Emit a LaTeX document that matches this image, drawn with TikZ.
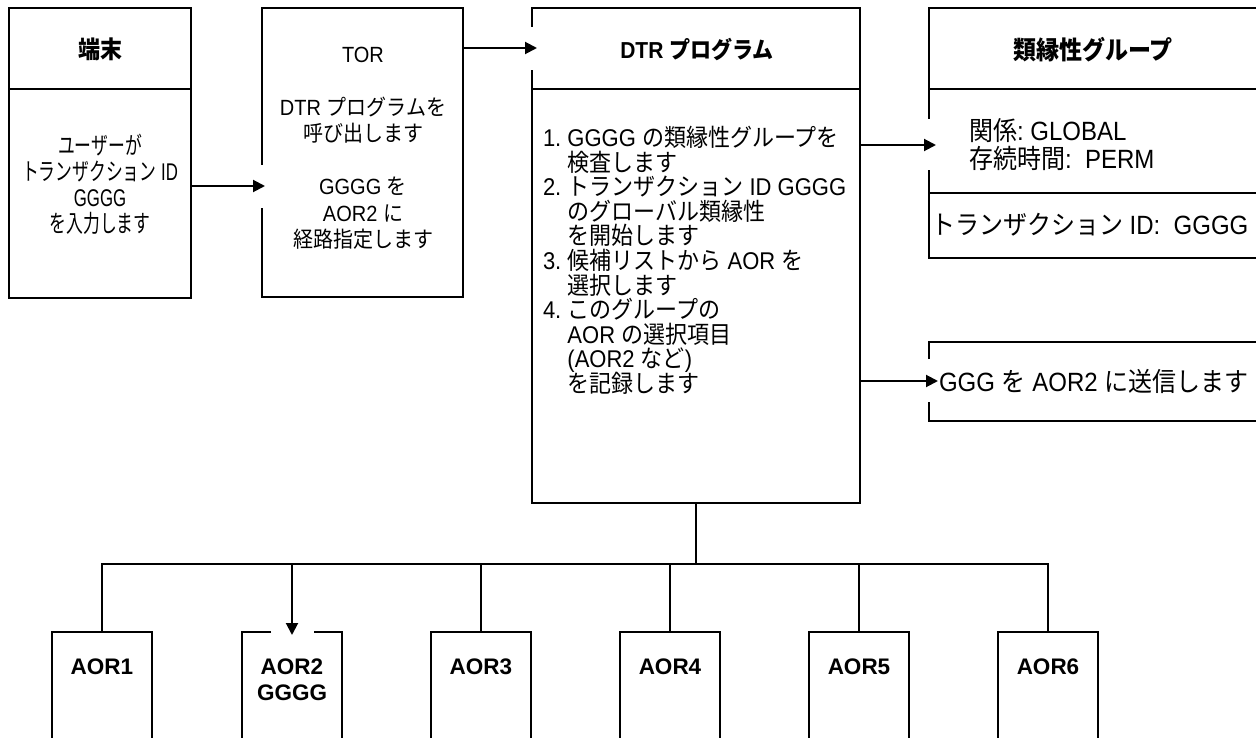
\documentclass[tikz,border=0pt]{standalone}
\usepackage{fontspec}
\usepackage{graphicx}
\setmainfont{Liberation Sans}
\newfontfamily\jpfont{Noto Sans CJK JP}
\usetikzlibrary{arrows.meta}
\newcommand\J[1]{{\jpfont #1}}
\newcommand\fs[2]{\fontsize{#1}{#2}\selectfont}
\newcommand\vs[1]{\scalebox{1}[1.1]{#1}}
% centred / left-aligned line blocks with exact baseline pitch
\newcommand\cblk[3]{\vbox{\fs{#1}{#2}\lineskiplimit=-1000pt\lineskip=0pt\halign{\hfil\vrule height .9em depth .25em width 0pt##\hfil\cr#3\crcr}}}
\newcommand\lblk[3]{\vbox{\fs{#1}{#2}\lineskiplimit=-1000pt\lineskip=0pt\halign{\vrule height .9em depth .25em width 0pt##\hfil\cr#3\crcr}}}
\frenchspacing
\begin{document}
\begin{tikzpicture}[x=1pt,y=-1pt,
  frame/.style={draw=black,line width=2pt},
  wire/.style={draw=black,line width=2pt},
  arr/.style={wire,-{Triangle[length=12pt,width=12pt]}},
  area/.style={inner sep=0pt,outer sep=0pt},
  txt/.style={inner sep=0pt,outer sep=0pt},
  hdr/.style={txt,anchor=base},
]
\useasboundingbox (0,0) rectangle (1256,738);
\coordinate (hd) at (0,89);
\coordinate (ad) at (0,193);
\coordinate (bus) at (0,564);

% Terminal
\node[area,frame,minimum width=182,minimum height=290] (term) at (100,153) {};
\draw[wire] (term.west |- hd) -- (term.east |- hd);
\node[hdr] (termT) at (100,58.2) {\vs{\bfseries\fs{22}{26}\J{端末}}};
\node[txt] (termB) at (100,185.3) {\scalebox{0.8}[1.15]{\cblk{21}{22.61}{\J{ユーザーが}\cr
\J{トランザクション} ID\cr
GGGG\cr
\J{を入力します}}}};

% TOR
\node[area,minimum width=201,minimum height=289] (tor) at (362.5,152.5) {};
\coordinate (torGapT) at (0,165);
\coordinate (torGapB) at (0,208);
\coordinate (torIn) at (265,186);
\draw[wire] (tor.west |- torGapT) -- (tor.north west) -- (tor.north east) -- (tor.south east) -- (tor.south west) -- (tor.west |- torGapB);
\node[txt] (torB) at (363,148) {\vs{\cblk{20}{24.09}{TOR\cr
\cr
DTR \J{プログラムを}\cr
\J{呼び出します}\cr
\cr
GGGG \J{を}\cr
AOR2 \J{に}\cr
\J{経路指定します}}}};
\draw[arr] (term.east |- torIn) -- (torIn);

% DTR program
\node[area,minimum width=328,minimum height=495] (dtr) at (696,255.5) {};
\coordinate (dtrGapT) at (0,27);
\coordinate (dtrGapB) at (0,70);
\coordinate (dtrIn) at (537,48);
\draw[wire] (dtr.west |- dtrGapT) -- (dtr.north west) -- (dtr.north east) -- (dtr.south east) -- (dtr.south west) -- (dtr.west |- dtrGapB);
\draw[wire] (dtr.west |- hd) -- (dtr.east |- hd);
\draw[arr] (tor.east |- dtrIn) -- (dtrIn);
\node[hdr] (dtrT) at (697,58.8) {\vs{\bfseries\fs{21}{25}DTR \J{プログラム}}};
\node[txt,anchor=west] (dtrB) at (543,261.6) {\vs{\lblk{22}{22.32}{1. GGGG \J{の類縁性グループを}\cr
\hphantom{1. }\J{検査します}\cr
2. \J{トランザクション} ID GGGG\cr
\hphantom{1. }\J{のグローバル類縁性}\cr
\hphantom{1. }\J{を開始します}\cr
3. \J{候補リストから} AOR \J{を}\cr
\hphantom{1. }\J{選択します}\cr
4. \J{このグループの}\cr
\hphantom{1. }AOR \J{の選択項目}\cr
\hphantom{1. }(AOR2 \J{など})\cr
\hphantom{1. }\J{を記録します}}}};

% Affinity group
\node[area,minimum width=331,minimum height=250] (aff) at (1094.5,133) {};
\coordinate (affGapT) at (0,119);
\coordinate (affGapB) at (0,170);
\coordinate (affIn) at (936,145);
\draw[wire] (aff.west |- affGapT) -- (aff.north west) -- (aff.north east) -- (aff.south east) -- (aff.south west) -- (aff.west |- affGapB);
\draw[wire] (aff.west |- hd) -- (aff.east |- hd);
\draw[wire] (aff.west |- ad) -- (aff.east |- ad);
\draw[arr] (dtr.east |- affIn) -- (affIn);
\node[hdr] (affT) at (1093,59.6) {\vs{\bfseries\fs{23}{27}\J{類縁性グループ}}};
\node[txt,anchor=west] (affB) at (969,145.5) {\vs{\lblk{24}{25.45}{\J{関係}: GLOBAL\cr
\J{存続時間}:\ \ PERM}}};
\node[txt,anchor=base west] (affId) at (931,235) {\vs{\fs{24}{28}\J{トランザクション} ID:\ \ GGGG}};

% Send
\node[area,minimum width=331,minimum height=79] (send) at (1094.5,381.5) {};
\coordinate (sendGapT) at (0,359);
\coordinate (sendGapB) at (0,402);
\coordinate (sendIn) at (938,381);
\draw[wire] (send.west |- sendGapT) -- (send.north west) -- (send.north east) -- (send.south east) -- (send.south west) -- (send.west |- sendGapB);
\draw[arr] (dtr.east |- sendIn) -- (sendIn);
\node[txt,anchor=base west] (sendT) at (939,391) {\vs{\fs{24}{28}GGG \J{を} AOR2 \J{に送信します}}};

% AOR boxes
\foreach \i/\c in {1/102,2/292,3/481,4/670,5/859,6/1048} {
  \node[area,minimum width=100,minimum height=128] (aor\i) at (\c,696) {};
}
\foreach \i in {1,3,4,5,6} {
  \draw[wire] (aor\i.south west) -- (aor\i.north west) -- (aor\i.north east) -- (aor\i.south east);
  \node[hdr] (aorT\i) at (aor\i.north |- 0,674) {\bfseries\fs{22.5}{26}AOR\i};
}
\coordinate (a2gL) at (271,0);
\coordinate (a2gR) at (314,0);
\coordinate (a2in) at (292,635);
\draw[wire] (a2gL |- aor2.north) -- (aor2.north west) -- (aor2.south west);
\draw[wire] (a2gR |- aor2.north) -- (aor2.north east) -- (aor2.south east);
\node[txt] (aorT2) at (292,680.2) {\bfseries\cblk{22.5}{26}{AOR2\cr GGGG}};

% Connectors
\draw[wire] (aor1.north) |- (aor6.north |- bus) -- (aor6.north);
\draw[wire] (dtr.south) -- (dtr.south |- bus);
\foreach \i in {3,4,5} {
  \draw[wire] (aor\i.north |- bus) -- (aor\i.north);
}
\draw[arr] (aor2.north |- bus) -- (a2in);
\end{tikzpicture}
\end{document}
